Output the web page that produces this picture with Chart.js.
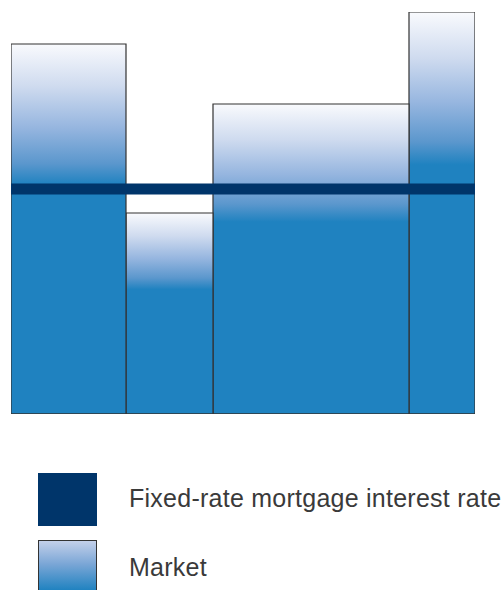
<!DOCTYPE html>
<html lang="en">
<head>
  <meta charset="UTF-8" />
  <title>Market vs fixed rate</title>
  <script src="https://cdn.jsdelivr.net/npm/chart.js"></script>
  <style>
    body { margin: 0; background: #fff; font-family: "Liberation Sans", Arial, sans-serif; }
    #wrap { position: relative; width: 504px; height: 590px; overflow: hidden; }
    #box { position: absolute; left: 0; top: 0; width: 504px; height: 420px; }
    .swatch { position: absolute; left: 38px; width: 59px; }
    .lbl { position: absolute; left: 129px; font-size: 25px; color: #3a3a3a; white-space: nowrap; line-height: 30px; letter-spacing: 0.25px; }
  </style>
</head>
<body>
  <div id="wrap">
    <div id="box"><canvas id="chart"></canvas></div>
    <div class="swatch" style="top:473px;height:53px;background:#00356a;"></div>
    <div class="lbl" id="lbl0" style="top:483px;"></div>
    <div class="swatch" style="top:540px;height:60px;box-sizing:border-box;border:1px solid #333;background:linear-gradient(#c3d0ea,#7aa6d6 40%,#1f82c0 85%);"></div>
    <div class="lbl" id="lbl1" style="top:552px;"></div>
  </div>

  <script>
    // bar edges along the x axis (variable width bars) and market heights
    const edges = [0, 115, 202, 398, 464];
    const market = [370, 201, 310, 402];
    const fixedRate = 225;
    const legendLabels = ["Fixed-rate mortgage interest rate", "Market"];

    document.getElementById("lbl0").textContent = legendLabels[0];
    document.getElementById("lbl1").textContent = legendLabels[1];

    function barFill(h) {
      return (context) => {
        const chart = context.chart;
        const y = chart.scales.y;
        if (!chart.chartArea || !y) return "#1f82c0";
        const top = y.getPixelForValue(h);
        const solid = y.getPixelForValue(h * 0.62);
        const g = chart.ctx.createLinearGradient(0, top, 0, solid);
        g.addColorStop(0, "#f9fafd");
        g.addColorStop(0.3, "#cfdbef");
        g.addColorStop(0.6, "#95b5df");
        g.addColorStop(0.85, "#5b97cd");
        g.addColorStop(1, "#1f82c0");
        return g;
      };
    }

    const datasets = [{
      label: legendLabels[0],
      data: [{ x: edges[0], y: fixedRate }, { x: edges[edges.length - 1], y: fixedRate }],
      borderColor: "#00356a",
      borderWidth: 11,
      borderCapStyle: "butt",
      pointRadius: 0,
      fill: false,
      order: 0
    }];

    market.forEach((h, i) => {
      const x0 = edges[i], x1 = edges[i + 1];
      datasets.push({
        label: legendLabels[1],
        data: [{ x: x0, y: 0 }, { x: x0, y: h }, { x: x1, y: h }, { x: x1, y: 0 }],
        borderColor: "#333333",
        borderWidth: 1.2,
        pointRadius: 0,
        tension: 0,
        fill: "origin",
        backgroundColor: barFill(h),
        order: 1
      });
    });

    // bottom edge of the bars along the x axis
    datasets.push({
      label: "base",
      data: [{ x: edges[0], y: 0 }, { x: edges[edges.length - 1], y: 0 }],
      borderColor: "#333333",
      borderWidth: 1.5,
      pointRadius: 0,
      fill: false,
      order: 0
    });

    new Chart(document.getElementById("chart"), {
      type: "line",
      data: { datasets: datasets },
      options: {
        responsive: true,
        maintainAspectRatio: false,
        animation: false,
        layout: { padding: { left: 11, right: 29, top: 12, bottom: 6 } },
        plugins: { legend: { display: false }, tooltip: { enabled: false }, filler: { propagate: false } },
        elements: { line: { clip: false } },
        scales: {
          x: { type: "linear", min: edges[0], max: edges[edges.length - 1], display: false },
          y: { min: 0, max: 402, display: false }
        }
      }
    });
  </script>
</body>
</html>
